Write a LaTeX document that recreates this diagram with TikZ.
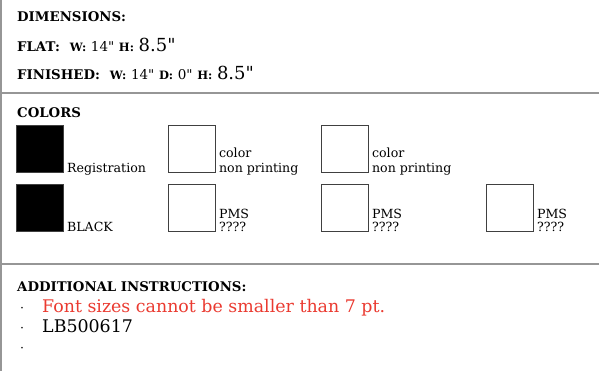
\documentclass[tikz,border=0pt]{standalone}
\usepackage{fontspec}
\setmainfont{DejaVu Serif}[Ligatures=TeXOff]
\usepackage{xcolor}
\usepackage{tikz}
\usetikzlibrary{positioning}
\definecolor{notered}{RGB}{234,58,48}
\definecolor{rulegray}{RGB}{150,150,150}
\newcommand{\sclab}[1]{{\fontsize{11.5}{13}\selectfont #1}}
\newcommand{\dimnum}[1]{{\mdseries\fontsize{13.5}{15}\selectfont #1}}
\newcommand{\dimbig}[1]{{\mdseries\fontsize{18}{20}\selectfont #1}}
\tikzstyle{head} = [anchor=base west, inner sep=0pt, font=\fontsize{13.3}{15}\selectfont\bfseries]
\tikzstyle{swatch} = [rectangle, minimum size=47pt, inner sep=0pt, draw=black!75, line width=0.8pt]
\tikzstyle{tag} = [anchor=base west, inner sep=0pt, align=left, font=\fontsize{12.6}{15}\selectfont]
\tikzstyle{note} = [anchor=base west, inner sep=0pt, font=\fontsize{17.4}{20}\selectfont]
\tikzstyle{rule} = [draw=rulegray, line width=2pt]

\begin{document}
\begin{tikzpicture}[x=1pt, y=-1pt]
\useasboundingbox (0,0) rectangle (599,371);
\draw [rule] (1,0) -- (1,371);
\coordinate (r1a) at (0,93);
\coordinate (r1b) at (599,93);
\coordinate (r2a) at (0,264);
\coordinate (r2b) at (599,264);
\draw [rule] (r1a) -- (r1b);
\draw [rule] (r2a) -- (r2b);
% dimensions
\node [head] (dim) at (17,22) {DIMENSIONS:};
\node [head] (flat) at (17,52) {FLAT:\hspace{10pt}\sclab{W:} \dimnum{14"} \sclab{H:} \dimbig{8.5"}};
\node [head] (fin) at (17,80) {FINISHED:\hspace{10pt}\sclab{W:} \dimnum{14"} \sclab{D:} \dimnum{0"} \sclab{H:} \dimbig{8.5"}};
% colors
\node [head] (col) at (17,118) {COLORS};
\node [swatch, fill=black] (reg) at (40,149) {};
\node [swatch] (np1) at (192,149) {};
\node [swatch] (np2) at (345,149) {};
\node [swatch, fill=black] (blk) at (40,208) {};
\node [swatch] (pms1) at (192,208) {};
\node [swatch] (pms2) at (345,208) {};
\node [swatch] (pms3) at (510,208) {};
\node [tag, xshift=3pt] (regt) at (reg.south east) {Registration};
\node [tag, xshift=3pt] (np1t) at (np1.south east) {color\\non printing};
\node [tag, xshift=3pt] (np2t) at (np2.south east) {color\\non printing};
\node [tag, xshift=3pt] (blkt) at (blk.south east) {BLACK};
\node [tag, xshift=3pt] (pms1t) at (pms1.south east) {PMS\\[-2pt]????};
\node [tag, xshift=3pt] (pms2t) at (pms2.south east) {PMS\\[-2pt]????};
\node [tag, xshift=3pt] (pms3t) at (pms3.south east) {PMS\\[-2pt]????};
% additional instructions
\node [head] (add) at (17,291) {ADDITIONAL INSTRUCTIONS:};
\node [tag] (b1) at (20,312) {·};
\node [tag] (b2) at (20,332) {·};
\node [tag] (b3) at (20,352) {·};
\node [note, text=notered] (n1) at (42,312) {Font sizes cannot be smaller than 7 pt.};
\node [note] (n2) at (42,332) {LB500617};
\end{tikzpicture}
\end{document}
